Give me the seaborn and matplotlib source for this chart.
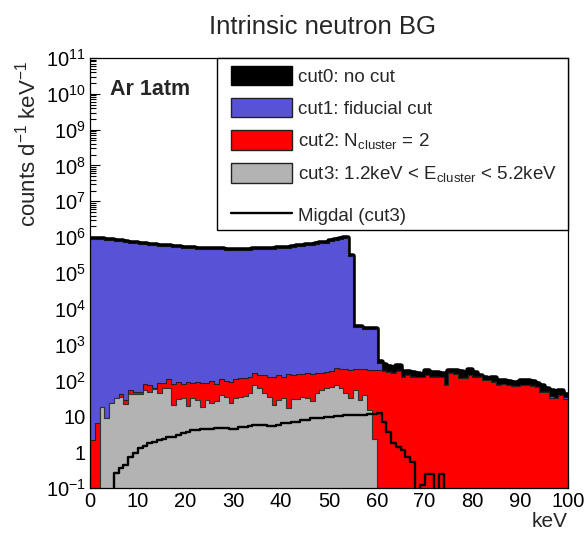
import numpy as np
import pandas as pd
import matplotlib
matplotlib.use("Agg")
import matplotlib.pyplot as plt
import seaborn as sns
from matplotlib.patches import Patch, Rectangle
from matplotlib.lines import Line2D
from matplotlib.ticker import LogLocator, FuncFormatter, MultipleLocator, NullFormatter

sns.set_theme(style="white")
plt.rcParams['font.family'] = ['Liberation Sans', 'DejaVu Sans']
plt.rcParams['mathtext.fontset'] = 'custom'
plt.rcParams['mathtext.rm'] = 'Liberation Sans'
plt.rcParams['mathtext.it'] = 'Liberation Sans:italic'
plt.rcParams['mathtext.bf'] = 'Liberation Sans:bold'

# ---------------- data (1 keV bins, 0-100 keV) ----------------
bin_edges = list(range(0, 101))
bin_centers = [e + 0.5 for e in bin_edges[:-1]]

cut1_fiducial = [
    871e3, 891e3, 871e3, 832e3, 813e3, 776e3, 759e3, 724e3, 708e3, 676e3,
    661e3, 631e3, 617e3, 603e3, 575e3, 562e3, 550e3, 537e3, 525e3, 513e3,
    501e3, 490e3, 479e3, 479e3, 468e3, 468e3, 457e3, 457e3, 447e3, 447e3,
    447e3, 447e3, 447e3, 447e3, 457e3, 457e3, 468e3, 468e3, 479e3, 490e3,
    501e3, 513e3, 525e3, 550e3, 562e3, 589e3, 617e3, 646e3, 676e3, 708e3,
    759e3, 813e3, 871e3, 933e3, 290e3, 3200, 3100, 2800, 2800, 2700,
    300, 200, 180, 170, 190, 130, 150, 130, 125, 125,
    145, 130, 130, 128, 78, 168, 155, 118, 125, 145,
    130, 135, 102, 102, 95, 82, 82, 77, 73, 71,
    77, 76, 74, 68, 50, 50, 36, 33, 40, 34,
]

cut0_nocut = [
    871e3, 891e3, 871e3, 832e3, 813e3, 776e3, 759e3, 724e3, 708e3, 676e3,
    661e3, 631e3, 617e3, 603e3, 575e3, 562e3, 550e3, 537e3, 525e3, 513e3,
    501e3, 490e3, 479e3, 479e3, 468e3, 468e3, 457e3, 457e3, 447e3, 447e3,
    447e3, 447e3, 447e3, 447e3, 457e3, 457e3, 468e3, 468e3, 479e3, 490e3,
    501e3, 513e3, 525e3, 550e3, 562e3, 589e3, 617e3, 646e3, 676e3, 708e3,
    759e3, 813e3, 871e3, 933e3, 290e3, 3200, 3100, 2800, 2800, 2700,
    330, 265, 233, 214, 249, 163, 174, 163, 152, 146,
    180, 163, 163, 152, 99, 188, 180, 170, 165, 190,
    162, 132, 118, 105, 118, 98, 95, 91, 85, 85,
    95, 95, 91, 80, 69, 59, 52, 45, 52, 40,
]

cut2_ncluster = [
    2.2, 6.6, 18, 8.8, 23, 33, 42, 29, 56, 49,
    49, 78, 75, 61, 87, 84, 108, 78, 93, 80,
    89, 84, 89, 84, 84, 99, 80, 108, 99, 93,
    108, 115, 115, 128, 159, 143, 143, 128, 128, 143,
    128, 149, 143, 152, 152, 159, 152, 166, 159, 177,
    188, 219, 205, 215, 200, 215, 205, 210, 200, 195,
    196, 188, 177, 166, 188, 128, 143, 128, 123, 123,
    143, 128, 128, 123, 75, 166, 152, 115, 115, 143,
    128, 128, 100, 100, 93, 75, 80, 75, 72, 70,
    75, 75, 72, 67, 49, 49, 32, 32, 39, 30,
]

cut3_ecluster = [
    0, 0, 18, 8.8, 23, 32, 35, 22, 42, 42,
    42, 56, 49, 57, 46, 63, 63, 21, 30, 32,
    19, 32, 29, 18, 29, 24, 26, 39, 35, 24,
    32, 35, 37, 44, 75, 63, 46, 34, 21, 29,
    32, 17, 30, 30, 35, 32, 26, 44, 54, 63,
    66, 75, 60, 46, 32, 56, 29, 39, 15, 2.4,
    0, 0, 0, 0, 0, 0, 0, 0, 0, 0,
    0, 0, 0, 0, 0, 0, 0, 0, 0, 0,
    0, 0, 0, 0, 0, 0, 0, 0, 0, 0,
    0, 0, 0, 0, 0, 0, 0, 0, 0, 0,
]

migdal_cut3 = [
    0, 0, 0, 0, 0, 0.26, 0.37, 0.45, 0.74, 0.93,
    1.29, 1.48, 1.8, 1.96, 2.2, 2.3, 2.6, 2.7, 3.0, 3.4,
    3.7, 4.2, 4.2, 4.3, 4.3, 4.4, 4.6, 4.6, 4.6, 4.3,
    4.3, 4.9, 4.9, 5.4, 5.7, 5.7, 5.7, 5.2, 5.2, 5.7,
    6.4, 6.4, 7.1, 7.1, 7.9, 7.9, 8.8, 8.8, 8.8, 9.8,
    9.8, 10.2, 10.2, 10.9, 10.9, 10.9, 10.9, 10.9, 11.6, 11.6,
    12.7, 7.1, 3.7, 1.77, 1.42, 1.15, 0.75, 0.54, 0, 0.12,
    0.25, 0.25, 0, 0.25, 0, 0, 0, 0, 0, 0,
    0, 0, 0, 0, 0, 0, 0, 0, 0, 0,
    0, 0, 0, 0, 0, 0, 0, 0, 0, 0,
]

legend_labels = [
    "cut0: no cut",
    "cut1: fiducial cut",
    r"cut2: N$_{\mathregular{cluster}}$ = 2",
    r"cut3: 1.2keV < E$_{\mathregular{cluster}}$ < 5.2keV",
    "Migdal (cut3)",
]

BLUE = "#5852d6"
RED = "#ff0000"
GRAY = "#b3b3b3"

# ---------------- figure ----------------
fig = plt.figure(figsize=(5.85, 5.35), dpi=100)
ax = fig.add_axes([0.1538, 0.0879, 0.8171, 0.8037])
ax.set_yscale("log")


def draw(values, **kw):
    df = pd.DataFrame({"keV": bin_centers, "counts": [float(v) for v in values]})
    sns.histplot(data=df, x="keV", weights="counts", bins=bin_edges,
                 element="step", ax=ax, alpha=1, **kw)


draw(cut0_nocut, fill=True, color="black", edgecolor="black", linewidth=4.0)
draw(cut1_fiducial, fill=True, color=BLUE, edgecolor="#111111", linewidth=0.8)
draw(cut2_ncluster, fill=True, color=RED, edgecolor="#222222", linewidth=0.8)
draw(cut3_ecluster, fill=True, color=GRAY, edgecolor="#333333", linewidth=0.8)
draw(migdal_cut3, fill=False, color="black", linewidth=1.7)

ax.set_xlim(0, 100)
ax.set_ylim(0.1, 1e11)
ax.set_axisbelow(True)

ax.yaxis.set_major_locator(LogLocator(base=10, numticks=30))
ax.yaxis.set_minor_locator(LogLocator(base=10, subs=np.arange(2, 10), numticks=300))
ax.yaxis.set_minor_formatter(NullFormatter())


def yfmt(v, pos):
    e = int(round(np.log10(v)))
    if e == 0:
        return "1"
    if e == 1:
        return "10"
    return r"$\mathregular{10^{%d}}$" % e


ax.yaxis.set_major_formatter(FuncFormatter(yfmt))
ax.xaxis.set_major_locator(MultipleLocator(10))
ax.xaxis.set_minor_locator(MultipleLocator(2))

ax.tick_params(axis="both", which="both", direction="in", top=False, right=False,
               left=True, bottom=True, labelsize=14.5, colors="black")
ax.tick_params(axis="both", which="major", length=7, width=0.8, pad=3)
ax.tick_params(axis="both", which="minor", length=4, width=0.8)
for s in ax.spines.values():
    s.set_color("black")
    s.set_linewidth(0.9)
    s.set_zorder(6)

ax.set_ylabel(r"counts d$^{\mathregular{-1}}$ keV$^{\mathregular{-1}}$", fontsize=16)
ax.yaxis.set_label_coords(-0.104, 0.80)
ax.set_xlabel("keV", fontsize=15, ha="right")
ax.xaxis.set_label_coords(1.0, -0.055)
ax.set_title("Intrinsic neutron BG", fontsize=18.5, pad=17, x=0.486)

ax.text(0.042, 0.926, "Ar 1atm", transform=ax.transAxes, fontsize=15.5,
        fontweight="bold", va="center", ha="left")

# legend frame
frame = Rectangle((0.266, 0.600), 0.734, 0.400, transform=ax.transAxes,
                  facecolor="white", edgecolor="black", linewidth=1.0,
                  clip_on=False, zorder=7)
ax.add_patch(frame)

patch_handles = [
    Patch(facecolor="black", edgecolor="black"),
    Patch(facecolor=BLUE, edgecolor="#222222"),
    Patch(facecolor=RED, edgecolor="#222222"),
    Patch(facecolor=GRAY, edgecolor="#222222"),
]
leg_kw = dict(frameon=False, fontsize=13.5, handlelength=3.25, handleheight=1.23,
              handletextpad=0.34, borderpad=0, borderaxespad=0)
leg1 = ax.legend(patch_handles, legend_labels[:4], loc="upper left",
                 bbox_to_anchor=(0.295, 0.982), labelspacing=0.64, **leg_kw)
leg1.set_zorder(8)
ax.add_artist(leg1)
leg2 = ax.legend([Line2D([], [], color="black", linewidth=1.7)], legend_labels[4:],
                 loc="center left", bbox_to_anchor=(0.295, 0.635), **leg_kw)
leg2.set_zorder(8)

fig.savefig("out.png", dpi=100)
